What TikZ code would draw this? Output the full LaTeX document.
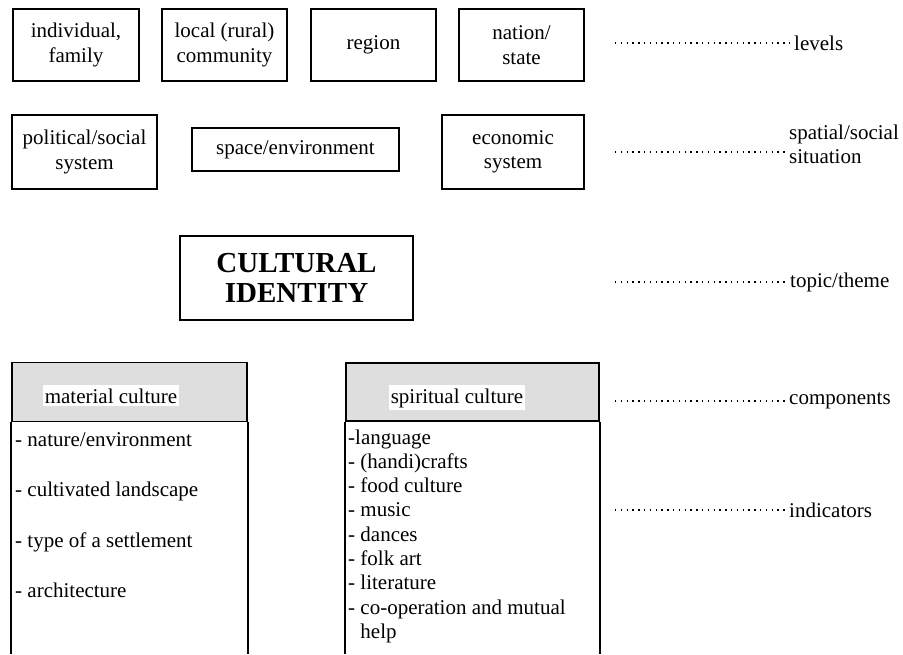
\documentclass[tikz,border=0pt]{standalone}
\usepackage{fontspec}
\setmainfont{Liberation Serif}
\begin{document}
\begin{tikzpicture}[x=1pt,y=-1pt,
  every node/.style={font=\fontsize{21}{24.5}\selectfont},
  box/.style={draw,line width=1.6pt,align=center,inner sep=0pt},
  hdr/.style={draw,line width=1.6pt,fill=black!13,inner sep=0pt,minimum height=59pt},
  hdrtext/.style={fill=white,inner xsep=2pt,inner ysep=3pt,anchor=base},
  item/.style={anchor=base west,inner sep=0pt},
  lab/.style={anchor=west,inner xsep=3pt,inner ysep=0pt,align=left},
  dotline/.style={line width=1.3pt,dash pattern=on 1.4pt off 4.4pt},
  side/.style={line width=1.6pt}]
\useasboundingbox (0,0) rectangle (903,654);

% levels row
\node[box,minimum width=126pt,minimum height=72pt] (indiv) at (76,45) {individual,\\family};
\node[box,minimum width=125pt,minimum height=72pt] (local) at (224.5,45) {local (rural)\\community};
\node[box,minimum width=125pt,minimum height=72pt] (region) at (373.5,45) {region};
\node[box,minimum width=125pt,minimum height=72pt] (nation) at (521.5,45) {nation/\\state};

% situation row
\node[box,minimum width=145pt,minimum height=74pt] (polit) at (84.5,152) {political/social\\system};
\node[box,minimum width=207pt,minimum height=43pt] (space) at (295.5,149.5) {space/environment};
\node[box,minimum width=142pt,minimum height=74pt] (econ) at (513,152) {economic\\system};

% theme
\node[box,minimum width=233pt,minimum height=84pt,font=\fontsize{29}{30.5}\bfseries\selectfont] (ci) at (296.5,278) {CULTURAL\\IDENTITY};

% components
\node[hdr,minimum width=235pt] (matH) at (129.5,392) {};
\node[hdrtext] (matT) at (111,403) {material culture};
\draw[side] (matH.south west) -- (matH.south west |- 0,654);
\draw[side] (matH.south east) -- (matH.south east |- 0,654);

\node[hdr,minimum width=253pt,minimum height=58pt] (spiH) at (472.5,392) {};
\node[hdrtext] (spiT) at (457,403) {spiritual culture};
\draw[side] (spiH.south west) -- (spiH.south west |- 0,654);
\draw[side] (spiH.south east) -- (spiH.south east |- 0,654);

% material indicators
\node[item] (m1) at (15,446) {- nature/environment};
\node[item] (m2) at (15,496) {- cultivated landscape};
\node[item] (m3) at (15,547) {- type of a settlement};
\node[item] (m4) at (15,597) {- architecture};

% spiritual indicators
\node[item] (s1) at (348,444) {-language};
\node[item] (s2) at (348,468.3) {- (handi)crafts};
\node[item] (s3) at (348,492.6) {- food culture};
\node[item] (s4) at (348,516.9) {- music};
\node[item] (s5) at (348,541.2) {- dances};
\node[item] (s6) at (348,565.5) {- folk art};
\node[item] (s7) at (348,589.8) {- literature};
\node[item] (s8) at (348,614.1) {- co-operation and mutual};
\node[item] (s9) at (348,638.4) {\phantom{- }help};

% right-hand labels
\coordinate (d1) at (615,43);
\node[lab] (levels) at (791,43) {levels};
\draw[dotline] (d1) -- (d1 -| levels.west);

\coordinate (d2) at (615,152);
\node[lab] (spatial) at (786,144.5) {spatial/social\\situation};
\draw[dotline] (d2) -- (d2 -| spatial.west);

\coordinate (d3) at (615,282);
\node[lab] (topic) at (787,282) {topic/theme};
\draw[dotline] (d3) -- (topic.west);

\coordinate (d4) at (615,401);
\node[lab] (comp) at (786,401) {components};
\draw[dotline] (d4) -- (comp.west);

\coordinate (d5) at (615,510);
\node[lab] (ind) at (786,510) {indicators};
\draw[dotline] (d5) -- (ind.west);
\end{tikzpicture}
\end{document}
